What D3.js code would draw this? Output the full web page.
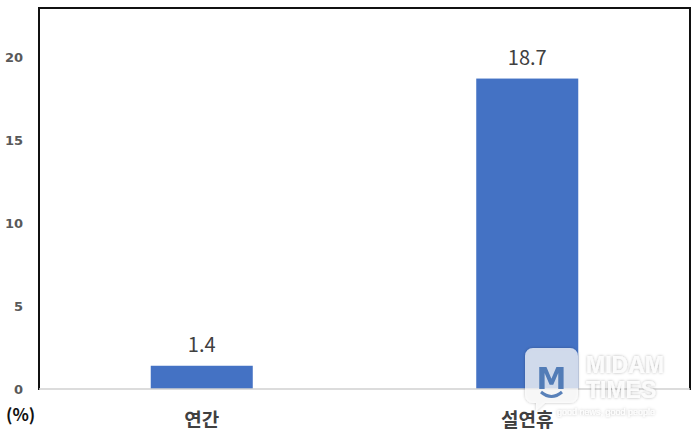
<!DOCTYPE html>
<html><head><meta charset="utf-8">
<script src="https://cdn.jsdelivr.net/npm/d3@7"></script>
<style>body{margin:0;background:#fff}svg{display:block}</style>
</head><body>
<svg id="c" width="695" height="440"></svg>
<script>
const categories = ["연간", "설연휴"];
const values = [1.4, 18.7];
const yTicks = [0, 5, 10, 15, 20];
const unitLabel = "(%)";

(function () {
const svg = d3.select("#c");
const W = 695, H = 440;
const pL = 39, pR = 690, pT = 8, pB = 389;
svg.append("rect").attr("width", W).attr("height", H).attr("fill", "#fff");

const x = d3.scaleBand().domain(categories).range([pL, pR]).paddingInner(0.6866).paddingOuter(0.3433);
const y = d3.scaleLinear().domain([0, 22.95]).range([pB, pT]);

// frame
svg.append("path").attr("d", `M${pL},${pB+1}V${pT}H${pR}V${pB+1}`)
  .attr("fill", "none").attr("stroke", "#111").attr("stroke-width", 2);

// bars
svg.selectAll("rect.bar").data(values).join("rect").attr("class", "bar")
  .attr("x", (d, i) => x(categories[i])).attr("width", x.bandwidth())
  .attr("y", d => y(d)).attr("height", d => y(0) - y(d)).attr("fill", "#4472C4");

// baseline
svg.append("line").attr("x1", pL).attr("x2", pR).attr("y1", y(0)).attr("y2", y(0))
  .attr("stroke", "#d0d0d0").attr("stroke-width", 1.5);

// y axis labels
const yAxis = d3.axisLeft(y).tickValues(yTicks).tickSize(0).tickPadding(0).tickFormat(d3.format("d"));
const ga = svg.append("g").attr("transform", `translate(23,0)`).call(yAxis);
ga.select(".domain").remove();
ga.selectAll("text").attr("font-family", "'DejaVu Sans', sans-serif")
  .attr("font-size", 13).attr("font-weight", "bold").attr("fill", "#595959");

// value labels
svg.selectAll("text.val").data(values).join("text").attr("class", "val")
  .attr("x", (d, i) => x(categories[i]) + x.bandwidth() / 2)
  .attr("y", d => y(d) - 14)
  .attr("text-anchor", "middle")
  .attr("font-family", "'Noto Sans CJK KR', sans-serif").attr("font-size", 20)
  .attr("fill", "#404040").text(d => d.toFixed(1));

// category labels
const xAxis = d3.axisBottom(x).tickSize(0).tickPadding(0);
const gx = svg.append("g").attr("transform", `translate(0,${pB})`).call(xAxis);
gx.select(".domain").remove();
gx.selectAll("text").attr("dy", null).attr("y", 38)
  .attr("font-family", "'Noto Sans CJK KR', sans-serif").attr("font-size", 19)
  .attr("font-weight", "bold").attr("fill", "#404040");

// unit label
svg.append("text").attr("x", 6).attr("y", 421)
  .attr("font-family", "'Noto Sans CJK KR', sans-serif").attr("font-size", 17)
  .attr("font-weight", "bold").attr("fill", "#111").text(unitLabel);

// watermark
const defs = svg.append("defs");
const f = defs.append("filter").attr("id", "sh").attr("x", "-20%").attr("y", "-20%").attr("width", "140%").attr("height", "140%");
f.append("feDropShadow").attr("dx", 0).attr("dy", 0).attr("stdDeviation", 1.5).attr("flood-color", "#000").attr("flood-opacity", 0.35);
const wm = svg.append("g");
wm.append("path").attr("d", "M533,348H570a8,8 0 0 1 8,8V395a8,8 0 0 1 -8,8H545L536,411V403H533a8,8 0 0 1 -8,-8V356a8,8 0 0 1 8,-8Z")
  .attr("fill", "rgba(255,255,255,0.72)").attr("filter", "url(#sh)");
wm.append("text").attr("x", 551.5).attr("y", 389).attr("text-anchor", "middle")
  .attr("font-family", "'DejaVu Sans', sans-serif").attr("font-weight", "bold").attr("font-size", 30)
  .attr("fill", "#3d6cae").attr("opacity", 0.85).text("M");
wm.append("path").attr("d", "M541,392Q551.5,401 562,392").attr("fill", "none").attr("stroke", "#3d6cae").attr("stroke-width", 3).attr("opacity", 0.85);
wm.append("text").attr("x", 586).attr("y", 373).attr("font-family", "'Liberation Sans', sans-serif").attr("font-weight", "bold")
  .attr("font-size", 23).attr("fill", "rgba(255,255,255,0.85)").attr("filter", "url(#sh)").text("MIDAM");
wm.append("text").attr("x", 586).attr("y", 398).attr("font-family", "'Liberation Sans', sans-serif").attr("font-weight", "bold")
  .attr("font-size", 23).attr("fill", "rgba(255,255,255,0.85)").attr("filter", "url(#sh)").text("TIMES");
wm.append("text").attr("x", 557).attr("y", 415).attr("font-family", "'Liberation Sans', sans-serif")
  .attr("font-size", 9).attr("fill", "rgba(255,255,255,0.9)").attr("filter", "url(#sh)").text("good news, good people");
})();
</script>
</body></html>
